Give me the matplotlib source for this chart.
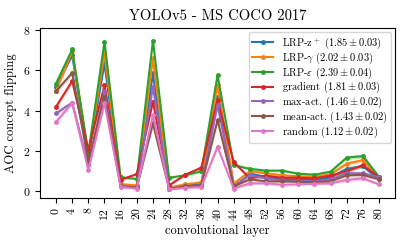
import matplotlib
matplotlib.use("Agg")
import matplotlib.pyplot as plt
import numpy as np

plt.rcParams['font.family'] = 'serif'
plt.rcParams['font.serif'] = ['cmr10']
plt.rcParams['mathtext.fontset'] = 'cm'
plt.rcParams['axes.formatter.use_mathtext'] = True
plt.rcParams['axes.unicode_minus'] = False

layers = list(range(0, 81, 4))

lrp_zplus = [5.20, 6.75, 1.70, 6.35, 0.30, 0.28, 5.86, 0.15, 0.30, 0.38, 4.70, 0.20, 0.88, 0.72, 0.62, 0.60, 0.56, 0.70, 1.12, 1.25, 0.60]
lrp_gamma = [5.00, 6.95, 1.80, 6.84, 0.36, 0.30, 6.60, 0.20, 0.35, 0.45, 5.27, 0.39, 1.00, 0.90, 0.80, 0.75, 0.72, 0.85, 1.38, 1.55, 0.65]
lrp_eps = [5.35, 7.04, 1.90, 7.42, 0.70, 0.62, 7.48, 0.68, 0.80, 1.00, 5.77, 1.30, 1.12, 1.03, 1.03, 0.88, 0.83, 0.98, 1.68, 1.75, 0.72]
gradient = [4.20, 5.47, 2.05, 5.27, 0.58, 0.86, 4.45, 0.30, 0.83, 1.18, 4.53, 1.46, 0.65, 0.78, 0.68, 0.68, 0.65, 0.78, 1.00, 1.30, 0.70]
max_act = [3.87, 4.40, 1.30, 4.97, 0.25, 0.20, 5.19, 0.13, 0.25, 0.30, 4.28, 0.28, 0.80, 0.65, 0.55, 0.50, 0.50, 0.60, 0.90, 0.90, 0.70]
mean_act = [4.97, 5.88, 1.50, 4.70, 0.25, 0.20, 3.37, 0.13, 0.25, 0.30, 3.54, 0.25, 0.60, 0.50, 0.50, 0.48, 0.45, 0.50, 0.80, 0.82, 0.60]
random_ = [3.45, 4.38, 1.06, 4.38, 0.22, 0.14, 3.79, 0.11, 0.18, 0.22, 2.22, 0.14, 0.40, 0.40, 0.33, 0.35, 0.38, 0.40, 0.57, 0.65, 0.35]

band = [0.12, 0.12, 0.10, 0.15, 0.06, 0.06, 0.15, 0.05, 0.06, 0.07, 0.18, 0.08, 0.07, 0.07, 0.07, 0.06, 0.06, 0.07, 0.10, 0.10, 0.06]

labels = [r'LRP-z$^+$ $(1.85\pm0.03)$',
          r'LRP-$\gamma$ $(2.02\pm0.03)$',
          r'LRP-$\varepsilon$ $(2.39\pm0.04)$',
          r'gradient $(1.81\pm0.03)$',
          r'max-act. $(1.46\pm0.02)$',
          r'mean-act. $(1.43\pm0.02)$',
          r'random $(1.12\pm0.02)$']
series = [lrp_zplus, lrp_gamma, lrp_eps, gradient, max_act, mean_act, random_]
colors = ['#1f77b4', '#ff7f0e', '#2ca02c', '#d62728', '#9467bd', '#8c564b', '#e377c2']

fig = plt.figure(figsize=(4.07, 2.44), dpi=100)
ax = fig.add_axes([0.098, 0.189, 0.873, 0.696])

x = np.array(layers)
b = np.array(band)
for vals, lab, c in zip(series, labels, colors):
    v = np.array(vals)
    ax.fill_between(x, v - b, v + b, color=c, alpha=0.25, linewidth=0)
    ax.plot(x, v, color=c, marker='o', markersize=2.5, linewidth=1.5, label=lab)

ax.set_xlim(-4, 84)
ax.set_ylim(-0.32, 8.1)
ax.set_xticks(layers)
ax.set_xticklabels([str(l) for l in layers], rotation=90, fontsize=8.5)
ax.set_yticks([0, 2, 4, 6, 8])
ax.tick_params(axis='y', labelsize=8.5)
ax.set_xlabel('convolutional layer', fontsize=9)
ax.set_ylabel('AOC concept flipping', fontsize=9)
ax.set_title('YOLOv5 - MS COCO 2017', fontsize=10.5)
ax.legend(loc='upper right', fontsize=7.5, framealpha=0.8, handlelength=2.0,
          borderpad=0.35, labelspacing=-0.05, borderaxespad=0.4)

fig.savefig('out.png', dpi=100)
